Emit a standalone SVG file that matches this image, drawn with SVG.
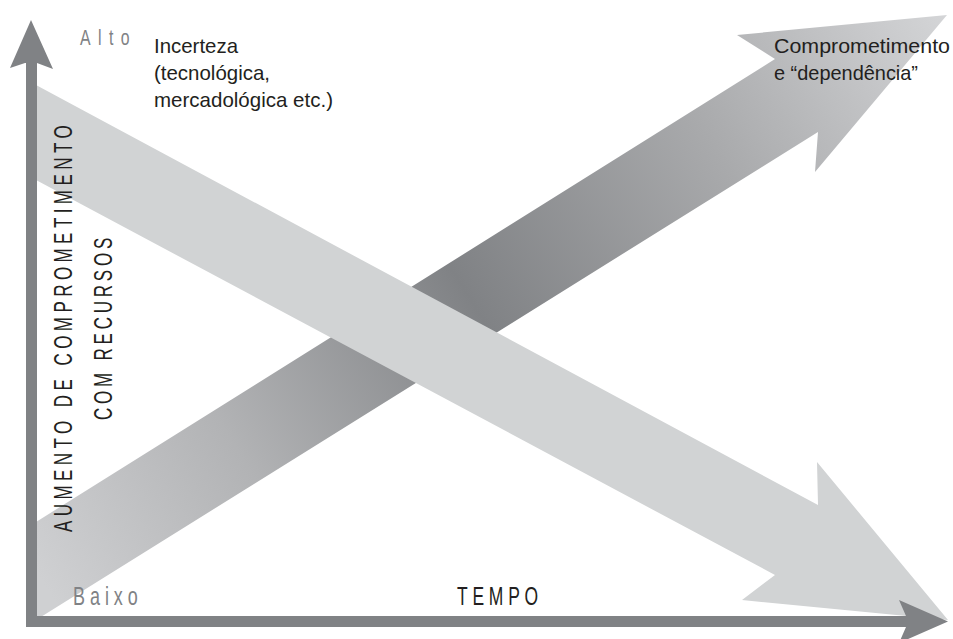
<svg xmlns="http://www.w3.org/2000/svg" width="953" height="639" viewBox="0 0 953 639">
  <defs>
    <linearGradient id="riseFill" gradientUnits="userSpaceOnUse" x1="36" y1="571" x2="947" y2="15">
      <stop offset="0" stop-color="#cfd0d2"/>
      <stop offset="0.22" stop-color="#b2b3b5"/>
      <stop offset="0.48" stop-color="#808285"/>
      <stop offset="0.75" stop-color="#a9aaac"/>
      <stop offset="1" stop-color="#d4d5d7"/>
    </linearGradient>
  </defs>
  <style>
    .axis { fill: #808285; }
    .band-light { fill: #d1d3d4; }
    .band-rise { fill: url(#riseFill); }
    .body { font-family: "Liberation Sans", Arial, sans-serif; font-size: 21px; fill: #231f20; }
    .caps { font-family: "Liberation Sans", Arial, sans-serif; font-size: 25px; fill: #231f20; }
    .level { font-family: "Liberation Sans", Arial, sans-serif; fill: #808285; }
  </style>

  <rect width="953" height="639" fill="#ffffff"/>

  <!-- broad arrows: commitment rising, uncertainty falling -->
  <g id="connectors">
    <polygon id="commitment-arrow" class="band-rise"
      points="36,522 775,59 737,35 947,15 815,172 818,132 36,620"/>
    <polygon id="uncertainty-arrow" class="band-light"
      points="36,85 818,505 817,462 948,620 742,600 775,575 36,180"/>
  </g>

  <!-- axes -->
  <g id="axes">
    <rect class="axis" x="26" y="60" width="11" height="567"/>
    <polygon class="axis" points="31,20 53,69 37,63 25,63 10,68"/>
    <rect class="axis" x="26" y="616" width="882" height="11"/>
    <polygon class="axis" points="948,621.5 899,600 906,616 906,627 899,643"/>
  </g>

  <!-- axis labels -->
  <g id="label-alto">
    <text class="level" font-size="22" transform="translate(80,45) scale(0.72,1)" textLength="69" lengthAdjust="spacing">Alto</text>
  </g>
  <g id="label-baixo">
    <text class="level" font-size="25" transform="translate(73,605) scale(0.72,1)" textLength="90" lengthAdjust="spacing">Baixo</text>
  </g>
  <g id="label-tempo">
    <text class="caps" transform="translate(457,605) scale(0.7,1)" textLength="116" lengthAdjust="spacing">TEMPO</text>
  </g>
  <g id="label-vertical">
    <text class="caps" transform="translate(72,532) rotate(-90) scale(0.68,1)" textLength="598" lengthAdjust="spacing">AUMENTO DE COMPROMETIMENTO</text>
    <text class="caps" transform="translate(112,420) rotate(-90) scale(0.68,1)" textLength="268" lengthAdjust="spacing">COM RECURSOS</text>
  </g>

  <!-- arrow captions -->
  <g id="label-incerteza">
    <text class="body" x="154" y="53" textLength="84" lengthAdjust="spacingAndGlyphs">Incerteza</text>
    <text class="body" x="154" y="80" textLength="116" lengthAdjust="spacingAndGlyphs">(tecnológica,</text>
    <text class="body" x="154" y="107" textLength="179" lengthAdjust="spacingAndGlyphs">mercadológica etc.)</text>
  </g>
  <g id="label-comprometimento">
    <text class="body" x="774" y="53" textLength="176" lengthAdjust="spacingAndGlyphs">Comprometimento</text>
    <text class="body" x="774" y="80" textLength="144" lengthAdjust="spacingAndGlyphs">e “dependência”</text>
  </g>
</svg>
